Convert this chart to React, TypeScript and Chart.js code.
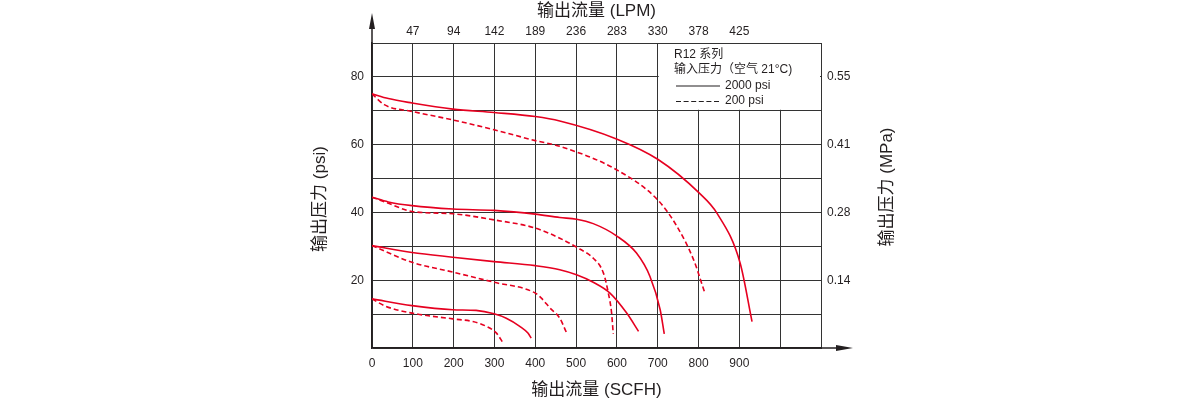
import React, { useEffect, useRef } from 'react';
import { Chart, registerables } from 'chart.js';

Chart.register(...registerables);

// ---- Data (SCFH vs psi) ----
const flow75Solid = [0, 40, 98, 198, 299, 400, 460, 599, 700, 802, 845, 902, 931];
const psi75Solid = [75, 73.6, 72.3, 70.5, 69.5, 68.3, 67, 61.7, 55.7, 45.7, 39.8, 25, 7.8];
const flow75Dash = [0, 30, 98, 198, 299, 400, 460, 599, 700, 747, 788, 815];
const psi75Dash = [75, 71.8, 69.8, 67.3, 64.4, 61.2, 59.5, 52.6, 43.7, 35.9, 26, 16.4];

const flow45Solid = [0, 40, 98, 198, 299, 400, 460, 501, 542, 599, 648, 681, 706, 716];
const psi45Solid = [44.5, 43.1, 42, 41, 40.6, 39.5, 38.5, 38, 36.7, 33.1, 28, 21.1, 11.3, 4.2];
const flow45Dash = [0, 34, 98, 198, 299, 400, 460, 509, 542, 567, 579, 587, 591];
const psi45Dash = [44.5, 43, 40.3, 39.6, 37.8, 35.4, 32.4, 29.2, 26.5, 22.1, 16.2, 10.3, 4.2];

const flow30Solid = [0, 98, 198, 299, 400, 460, 501, 542, 583, 624, 653];
const psi30Solid = [30.2, 28.2, 26.8, 25.5, 24.3, 23.1, 21.6, 19.4, 16.2, 10.3, 4.9];
const flow30Dash = [0, 98, 198, 299, 400, 415, 436, 460, 477];
const psi30Dash = [30.2, 25.3, 22.4, 19.4, 16.2, 14.7, 11.8, 8.8, 4.4];

const flow15Solid = [0, 98, 198, 255, 299, 329, 362, 382, 390];
const psi15Solid = [14.5, 12.5, 11.3, 11.1, 10.1, 8.8, 6.4, 4.4, 2.9];
const flow15Dash = [0, 34, 98, 198, 247, 280, 305, 321];
const psi15Dash = [14.5, 12.3, 10.3, 8.6, 7.8, 6.4, 4.4, 1.5];

// ---- Tick labels ----
const scfhLabels = ['0', '100', '200', '300', '400', '500', '600', '700', '800', '900'];
const lpmLabels = ['', '47', '94', '142', '189', '236', '283', '330', '378', '425'];
const psiTickValues = [20, 40, 60, 80];
const mpaLabels = ['0.14', '0.28', '0.41', '0.55'];

// ---- Texts ----
const titleBottom = '输出流量 (SCFH)';
const titleTop = '输出流量 (LPM)';
const titleLeft = '输出压力 (psi)';
const titleRight = '输出压力 (MPa)';
const legendTitle1 = 'R12 系列';
const legendTitle2 = '输入压力（空气 21°C)';
const legendSolid = '2000 psi';
const legendDash = '200 psi';

const RED = '#e60020';
const INK = '#231f20';
const GRID = '#333333';
const FONT = '"Liberation Sans", "Noto Sans CJK SC", sans-serif';

function pts(xs: number[], ys: number[]) {
  return xs.map((x, i) => ({ x, y: ys[i] }));
}

function ds(xs: number[], ys: number[], dashed: boolean) {
  return {
    data: pts(xs, ys),
    borderColor: RED,
    borderWidth: 1.6,
    borderDash: dashed ? [5, 3] : [],
    pointRadius: 0,
    fill: false,
    cubicInterpolationMode: 'monotone' as const,
  };
}

const overlayPlugin = {
  id: 'overlay',
  beforeDatasetsDraw(chart: any) {
    const { ctx, scales } = chart;
    const x = scales.x, y = scales.y;
    const l = x.getPixelForValue(700) + 1;
    const r = x.getPixelForValue(1100) - 1;
    const t = y.getPixelForValue(90) + 1;
    const b = y.getPixelForValue(70) - 1;
    ctx.save();
    ctx.fillStyle = '#ffffff';
    ctx.fillRect(l, t, r - l, b - t);
    ctx.restore();
  },
  afterDraw(chart: any) {
    const { ctx, chartArea } = chart;
    const { left, right, top, bottom } = chartArea;
    ctx.save();
    // axis arrows
    ctx.strokeStyle = INK;
    ctx.fillStyle = INK;
    ctx.lineWidth = 1.5;
    ctx.beginPath();
    ctx.moveTo(left, top);
    ctx.lineTo(left, 24);
    ctx.stroke();
    ctx.beginPath();
    ctx.moveTo(left, 13);
    ctx.lineTo(left - 3, 29);
    ctx.lineTo(left + 3, 29);
    ctx.closePath();
    ctx.fill();
    ctx.beginPath();
    ctx.moveTo(right, bottom);
    ctx.lineTo(842, bottom);
    ctx.stroke();
    ctx.beginPath();
    ctx.moveTo(853, bottom);
    ctx.lineTo(836, bottom - 3);
    ctx.lineTo(836, bottom + 3);
    ctx.closePath();
    ctx.fill();

    // legend
    ctx.font = '12px ' + FONT;
    ctx.textBaseline = 'middle';
    ctx.textAlign = 'left';
    ctx.fillStyle = INK;
    ctx.fillText(legendTitle1, 674, 55);
    ctx.fillText(legendTitle2, 674, 70);
    ctx.fillText(legendSolid, 725, 86);
    ctx.fillText(legendDash, 725, 101);
    ctx.strokeStyle = INK;
    ctx.lineWidth = 1.2;
    ctx.beginPath();
    ctx.moveTo(676, 86);
    ctx.lineTo(720, 86);
    ctx.stroke();
    ctx.setLineDash([5, 2.6]);
    ctx.beginPath();
    ctx.moveTo(676, 101.5);
    ctx.lineTo(721, 101.5);
    ctx.stroke();
    ctx.setLineDash([]);

    // titles
    ctx.font = '17px ' + FONT;
    ctx.textAlign = 'center';
    ctx.textBaseline = 'middle';
    const cx = (left + right) / 2;
    ctx.fillText(titleTop, cx, 11);
    ctx.fillText(titleBottom, cx, 390);
    ctx.save();
    ctx.translate(320, 199);
    ctx.rotate(-Math.PI / 2);
    ctx.fillText(titleLeft, 0, 0);
    ctx.restore();
    ctx.save();
    ctx.translate(887, 187);
    ctx.rotate(-Math.PI / 2);
    ctx.fillText(titleRight, 0, 0);
    ctx.restore();
    ctx.restore();
  },
};

export default function App() {
  const ref = useRef<HTMLCanvasElement | null>(null);
  useEffect(() => {
    if (!ref.current) return;
    const tickFont = { family: FONT, size: 12 };
    const chart = new Chart(ref.current, {
      type: 'line',
      data: {
        datasets: [
          ds(flow75Solid, psi75Solid, false),
          ds(flow75Dash, psi75Dash, true),
          ds(flow45Solid, psi45Solid, false),
          ds(flow45Dash, psi45Dash, true),
          ds(flow30Solid, psi30Solid, false),
          ds(flow30Dash, psi30Dash, true),
          ds(flow15Solid, psi15Solid, false),
          ds(flow15Dash, psi15Dash, true),
        ] as any,
      },
      options: {
        animation: false,
        responsive: false,
        devicePixelRatio: 1,
        layout: { padding: { left: 322, right: 329, top: 13, bottom: 12 } },
        plugins: { legend: { display: false }, tooltip: { enabled: false } },
        events: [],
        scales: {
          x: {
            type: 'linear',
            position: 'bottom',
            min: 0,
            max: 1100,
            afterFit: (s: any) => { s.height = 40; },
            ticks: {
              stepSize: 100,
              autoSkip: false,
              maxRotation: 0,
              padding: 8,
              color: INK,
              font: tickFont,
              callback: (_v: any, i: number) => scfhLabels[i] ?? '',
            },
            grid: { color: GRID, lineWidth: 1, drawTicks: false },
            border: { color: INK, width: 1.5 },
          },
          x2: {
            type: 'linear',
            position: 'top',
            min: 0,
            max: 1100,
            afterFit: (s: any) => { s.height = 30; },
            ticks: {
              stepSize: 100,
              autoSkip: false,
              maxRotation: 0,
              padding: 4,
              color: INK,
              font: tickFont,
              callback: (_v: any, i: number) => lpmLabels[i] ?? '',
            },
            grid: { display: false, drawTicks: false },
            border: { color: GRID, width: 1 },
          },
          y: {
            type: 'linear',
            position: 'left',
            min: 0,
            max: 90,
            afterFit: (s: any) => { s.width = 50; },
            ticks: {
              stepSize: 10,
              autoSkip: false,
              padding: 8,
              color: INK,
              font: tickFont,
              callback: (v: any) => (psiTickValues.includes(v) ? String(v) : ''),
            },
            grid: { color: GRID, lineWidth: 1, drawTicks: false },
            border: { color: INK, width: 1.5 },
          },
          y2: {
            type: 'linear',
            position: 'right',
            min: 0,
            max: 90,
            afterFit: (s: any) => { s.width = 50; },
            ticks: {
              stepSize: 10,
              autoSkip: false,
              padding: 6,
              color: INK,
              font: tickFont,
              callback: (v: any) => {
                const k = psiTickValues.indexOf(v);
                return k >= 0 ? mpaLabels[k] : '';
              },
            },
            grid: { display: false, drawTicks: false },
            border: { color: GRID, width: 1 },
          },
        },
      } as any,
      plugins: [overlayPlugin],
    });
    return () => chart.destroy();
  }, []);

  return (
    <div style={{ position: 'absolute', left: 0, top: 0, width: 1200, height: 400, background: '#fff' }}>
      <canvas ref={ref} width={1200} height={400} style={{ display: 'block', width: 1200, height: 400 }} />
    </div>
  );
}
